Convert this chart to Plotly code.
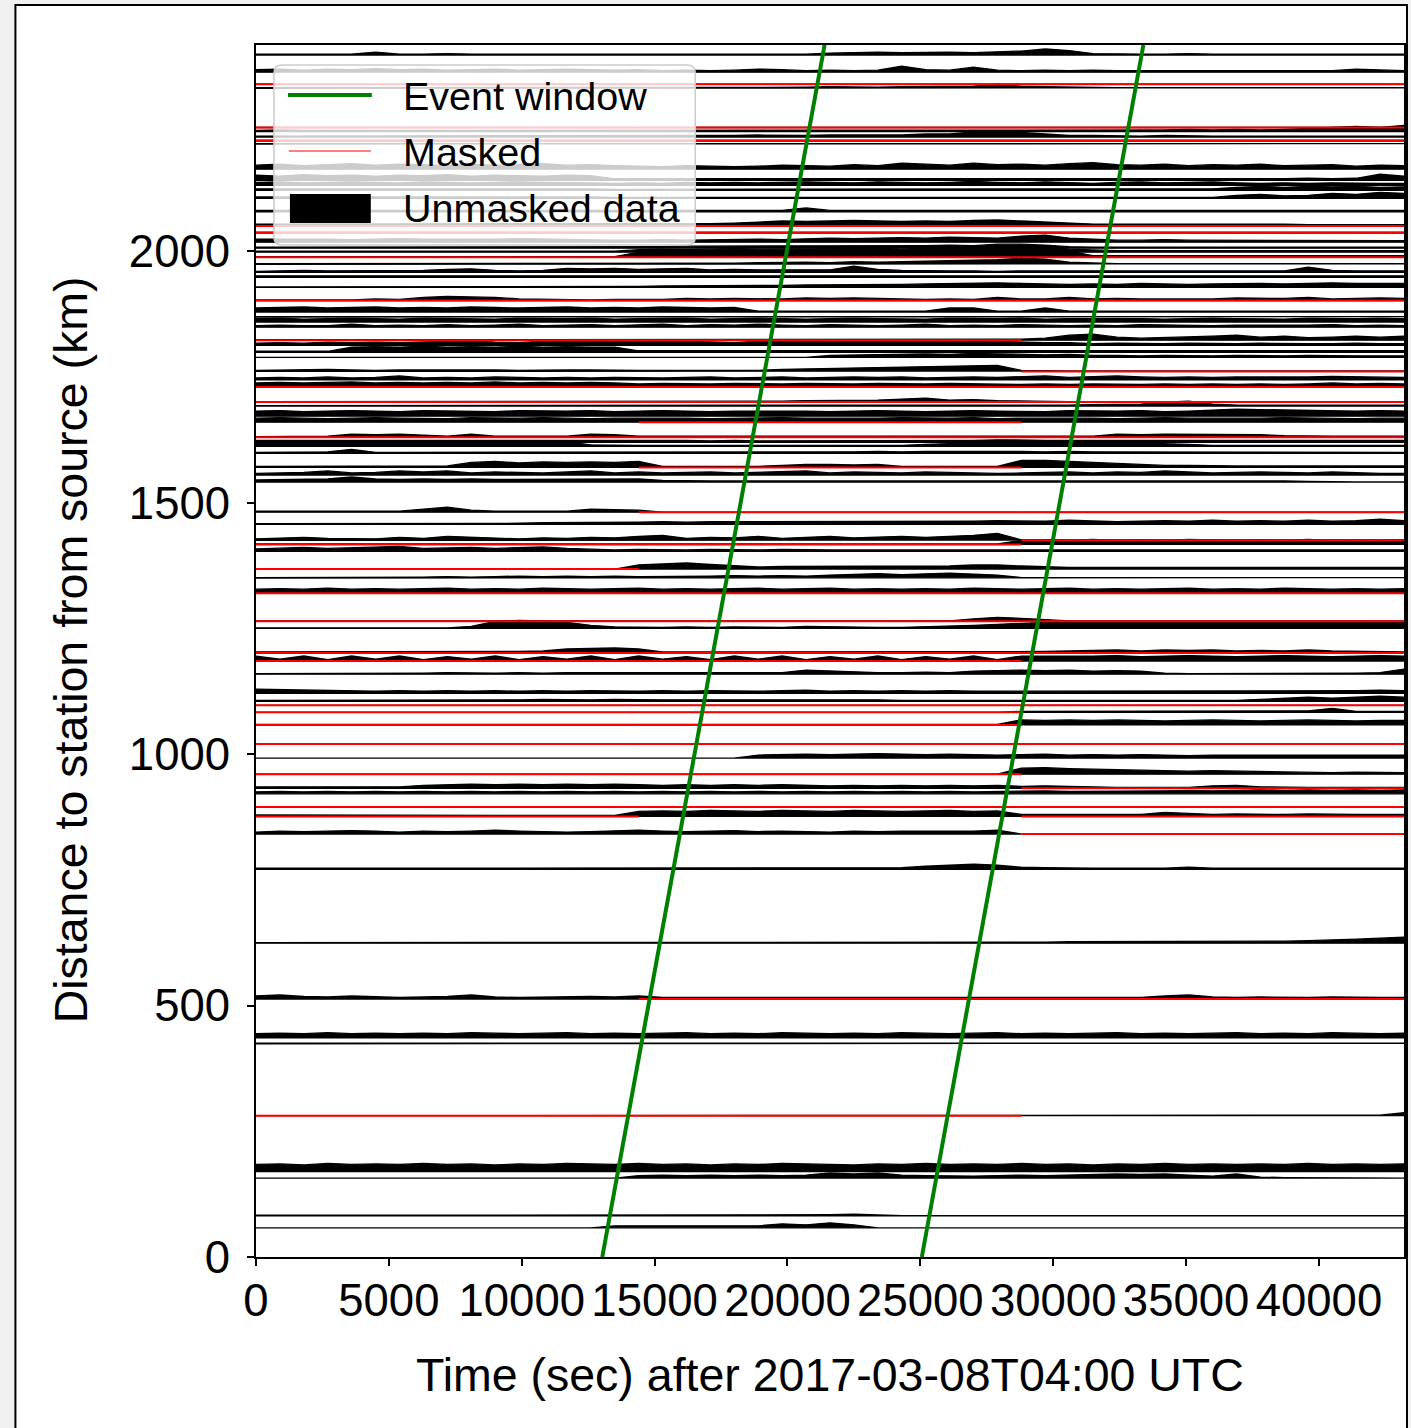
import plotly.graph_objects as go

# ---------------- data ----------------
# envelope sampled every 15 min over 12 h
TIME_GRID_S = [0, 900, 1800, 2700, 3600, 4500, 5400, 6300, 7200, 8100, 9000, 9900,
               10800, 11700, 12600, 13500, 14400, 15300, 16200, 17100, 18000, 18900,
               19800, 20700, 21600, 22500, 23400, 24300, 25200, 26100, 27000, 27900,
               28800, 29700, 30600, 31500, 32400, 33300, 34200, 35100, 36000, 36900,
               37800, 38700, 39600, 40500, 41400, 42300, 43200]
CHUNK_EDGES_S = [0, 14400, 28800, 43200]

TRACE_DIST = [2390, 2356, 2332, 2324, 2246, 2238, 2227, 2219, 2213, 2163,
              2141, 2131, 2121, 2105, 2078, 2050, 2036, 2018, 2006, 1998,
              1988, 1974, 1958, 1948, 1928, 1902, 1879, 1869, 1859, 1849,
              1823, 1813, 1799, 1789, 1761, 1744, 1730, 1700, 1692, 1672,
              1660, 1630, 1620, 1612, 1598, 1570, 1555, 1541, 1481, 1457,
              1425, 1417, 1403, 1368, 1350, 1320, 1264, 1250, 1201, 1185,
              1159, 1121, 1105, 1097, 1083, 1058, 1020, 992, 960, 932,
              921, 895, 876, 841, 771, 624, 513, 436, 424, 281,
              170, 157, 82, 58]

# mask status per 4-hour chunk: U = unmasked, M = masked
TRACE_MASK = ["UUU", "UUU", "MMM", "UUU", "MMM", "UUU", "UUU", "MMM", "UUU", "UUU",
              "UUU", "UUU", "UUU", "UUU", "UUU", "MMM", "MMM", "UUU", "UUU", "UUU",
              "MMM", "UUU", "UUU", "UUU", "UUU", "MMM", "UUU", "UUU", "UUU", "UUU",
              "MMU", "UUU", "UUU", "UUU", "UUM", "UUU", "MMM", "MMM", "UUU", "UUU",
              "UMU", "MMM", "UUU", "UUU", "UUU", "UMU", "UUU", "UUU", "UMM", "UUU",
              "UUM", "MMU", "UUU", "MUU", "UUU", "MMM", "MMM", "UUU", "MMM", "MMU",
              "UUU", "UUU", "UUU", "MMM", "MMU", "MMU", "MMM", "UUU", "MMU", "UUM",
              "UUU", "MMM", "MUM", "UUM", "UUU", "UUU", "UMM", "UUU", "UUU", "MMU",
              "UUU", "UUU", "UUU", "UUU"]

# envelope amplitude (km above the station line)
TRACE_AMP = [
    [2,2,3,2,2,6,2, 2,3,2,2,2,2,3, 2,2,2,2,3,2,2, 2,2,2,4,5,6,5, 6,6,5,7,8,12,9, 3,2,2,2,3,2,2, 2,2,2,2,2,2,2],
    [5,6,4,6,5,7,5, 6,4,5,6,4,5,6, 5,4,5,3,4,3,4, 6,5,3,4,3,4,12, 5,4,10,4,3,4,3, 4,3,3,4,3,3,3, 3,4,3,3,6,4,3],
    [0,0,0,0,0,0,0, 0,0,0,0,0,0,0, 0,0,0,0,0,0,0, 0,0,0,0,0,0,0, 0,0,0,0,0,0,0, 0,0,0,0,0,0,0, 0,0,0,0,0,0,0],
    [1,1,1,1,1,1,1, 1,1,1,1,1,1,1, 1,1,1,1,1,1,2, 2,2,2,3,2,2,3, 3,4,4,8,4,3,2, 1,1,1,1,1,1,1, 1,1,1,1,1,1,1],
    [0,0,0,0,0,0,0, 0,0,0,0,0,0,0, 0,0,0,0,0,0,0, 0,0,0,0,0,0,0, 0,0,0,0,0,0,0, 0,0,0,0,0,0,0, 0,0,0,0,0,0,0],
    [2,3,2,2,3,2,2, 3,2,2,3,2,3,2, 2,3,2,3,2,3,3, 2,3,3,2,3,2,3, 3,2,3,3,2,3,3, 3,2,3,3,4,3,4, 3,4,6,8,10,8,12],
    [2,2,3,2,2,2,3, 2,2,2,3,2,2,2, 3,2,2,3,2,3,3, 4,3,3,4,4,5,4, 6,6,10,12,9,6,3, 3,2,2,3,2,2,2, 2,3,2,2,2,2,2],
    [2,2,3,2,2,2,2, 2,3,2,2,2,2,2, 2,2,2,2,3,2,2, 2,2,2,2,2,3,2, 2,2,2,3,2,2,2, 2,2,2,2,2,2,3, 2,2,2,2,2,2,2],
    [1,1,1,1,1,1,1, 1,1,1,1,1,1,1, 1,1,1,1,1,1,1, 1,1,1,1,1,1,1, 1,1,1,1,1,1,1, 1,1,1,1,1,1,1, 1,1,1,1,1,1,1],
    [8,10,7,9,11,8,10, 9,7,10,8,9,11,8, 9,7,6,5,7,6,5, 6,8,7,6,9,7,12, 10,8,12,9,10,8,11, 13,9,8,10,7,9,8, 10,7,8,9,6,8,7],
    [10,8,11,9,10,8,10, 9,11,8,10,9,8,10, 9,3,3,2,3,3,2, 3,3,2,3,3,2,3, 3,2,3,3,2,3,3, 2,3,3,2,3,3,2, 3,3,4,3,4,12,8],
    [6,7,5,6,7,6,5, 7,6,5,6,7,6,6, 5,4,5,4,6,5,6, 5,6,7,6,5,7,6, 5,6,8,6,5,7,5, 4,6,7,5,6,7,5, 4,5,4,5,4,4,4],
    [3,3,4,3,3,4,3, 3,3,4,3,3,3,4, 3,2,2,2,3,2,2, 2,3,2,2,2,3,2, 2,2,2,3,2,2,2, 2,3,2,2,2,3,6, 8,6,8,7,8,6,7],
    [3,3,3,4,3,3,3, 4,3,3,3,3,4,3, 3,2,2,2,2,3,2, 2,2,2,3,2,2,2, 2,2,3,2,2,2,2, 2,2,2,2,3,2,6, 8,5,6,10,8,12,10],
    [3,3,4,3,3,3,4, 3,3,3,4,3,3,3, 3,3,3,3,3,3,3, 3,3,8,3,3,3,3, 3,3,3,4,3,3,3, 3,3,3,3,3,3,4, 3,3,3,3,3,3,3],
    [4,4,5,4,4,5,4, 4,5,4,4,4,5,4, 4,4,5,4,4,5,6, 8,10,9,10,11,10,9, 10,9,11,12,10,8,7, 4,4,4,5,4,4,4, 4,4,3,3,4,3,3],
    [2,2,2,2,2,2,2, 2,2,2,2,2,2,2, 2,2,2,2,2,2,2, 2,2,2,2,2,2,2, 2,2,2,2,2,2,2, 2,2,2,2,2,2,2, 2,2,2,2,2,2,2],
    [6,6,7,6,5,6,7, 6,6,5,6,7,6,6, 5,4,4,5,4,5,5, 6,5,6,8,7,8,9, 8,10,9,8,12,14,8, 6,4,4,5,4,4,4, 3,4,3,3,4,3,3],
    [2,2,2,3,2,2,2, 2,3,2,2,2,2,3, 2,2,2,3,4,4,5, 4,4,5,4,4,5,4, 5,6,5,8,8,6,3, 2,2,3,2,2,2,2, 2,2,3,2,2,2,2],
    [2,2,3,2,2,2,3, 2,2,2,3,2,2,2, 2,2,5,6,5,6,7, 6,6,7,6,7,8,6, 8,7,8,9,10,12,6, 4,3,3,3,4,3,3, 4,3,4,4,3,3,3],
    [1,1,1,1,1,1,1, 1,1,1,1,1,1,1, 1,1,10,11,10,12,10, 11,10,12,11,10,12,11, 10,12,11,12,13,12,12, 3,3,3,3,3,3,3, 3,3,3,3,3,3,3],
    [1,1,1,1,1,1,1, 1,1,1,1,1,1,1, 1,1,1,1,2,2,2, 3,4,4,3,5,4,5, 6,7,8,9,12,10,4, 2,1,1,1,1,1,1, 1,1,1,1,1,1,1],
    [2,3,4,3,3,4,3, 4,6,7,4,3,4,8, 7,8,6,7,8,5,6, 5,5,6,5,12,6,4, 3,3,3,2,3,3,2, 3,3,3,3,3,3,3, 3,3,10,4,3,3,3],
    [3,3,4,3,3,4,3, 3,3,4,3,3,3,4, 3,3,3,3,4,3,3, 3,4,3,3,3,3,3, 4,3,3,3,4,3,3, 3,3,3,4,3,3,3, 3,4,3,3,3,3,3],
    [1,1,1,1,1,1,1, 1,1,1,1,1,1,1, 1,1,2,3,3,3,4, 4,4,5,5,6,6,6, 7,8,8,9,8,7,6, 7,6,8,7,6,7,8, 8,7,8,9,8,8,8],
    [1,1,2,2,1,3,2, 6,8,7,6,3,2,2, 1,2,2,2,4,3,4, 4,3,5,4,5,4,4, 2,3,2,6,3,3,6, 3,4,3,3,4,3,5, 4,4,6,3,4,5,4],
    [8,9,10,8,9,10,8, 9,8,10,9,8,9,10, 8,9,8,10,9,8,9, 2,2,2,2,2,2,2, 2,8,8,2,2,8,2, 2,2,2,2,2,2,2, 2,2,2,2,2,2,2],
    [1,1,1,1,1,1,1, 1,1,1,1,1,1,1, 1,1,1,1,1,1,1, 1,1,1,1,1,1,1, 1,1,1,1,1,1,1, 1,1,1,1,1,1,1, 1,1,1,1,1,1,1],
    [7,8,6,7,8,7,6, 8,7,7,6,8,7,7, 8,6,7,7,8,6,7, 8,7,6,7,8,7,7, 6,8,7,7,8,6,7, 7,8,7,6,7,8,7, 7,6,8,7,7,8,7],
    [3,4,3,3,6,3,4, 3,5,3,4,6,3,4, 5,3,4,6,3,5,4, 6,4,3,5,4,3,4, 6,3,4,3,5,4,3, 4,3,5,4,3,3,4, 4,3,4,5,3,4,3],
    [1,1,1,1,1,1,1, 1,1,1,1,1,1,1, 1,1,1,1,1,1,1, 1,1,1,1,1,1,1, 1,1,1,1,2,4,10, 12,6,4,5,6,8,10, 6,8,5,6,8,6,8],
    [4,5,4,6,5,6,5, 6,8,9,6,5,8,9, 8,10,8,9,8,6,5, 8,9,10,8,9,10,8, 9,8,9,8,6,5,5, 3,4,3,3,4,3,3, 4,3,3,3,4,3,3],
    [2,2,3,2,10,11,10, 12,10,11,10,12,10,11, 10,10,3,3,3,3,3, 3,3,3,3,3,3,3, 3,3,3,3,3,3,3, 3,3,3,3,3,3,3, 3,3,3,3,3,3,3],
    [0,0,0,0,0,0,0, 0,0,0,0,0,0,0, 0,0,0,0,0,0,0, 0,0,0,4,5,6,6, 7,6,8,7,6,5,6, 4,4,3,4,3,3,4, 3,3,4,3,3,3,3],
    [2,3,3,4,3,2,3, 3,4,3,3,2,3,3, 3,2,2,2,2,3,2, 2,4,5,6,6,7,8, 9,10,11,12,2,1,1, 1,1,1,1,1,1,1, 1,1,1,1,1,1,1],
    [4,5,4,6,4,5,8, 4,5,4,6,5,4,5, 4,5,4,4,5,6,4, 5,6,4,5,6,5,6, 4,5,6,5,6,8,5, 6,8,6,5,6,5,6, 6,5,6,7,6,5,5],
    [8,9,8,9,10,8,9, 8,9,8,10,8,9,8, 9,8,6,7,6,6,7, 6,6,7,6,6,7,6, 6,7,6,6,5,6,5, 6,5,5,6,5,6,5, 6,5,6,8,6,7,6],
    [1,1,1,1,1,1,1, 1,1,1,1,1,1,1, 1,1,1,1,2,2,2, 2,2,3,3,3,4,6, 8,4,5,3,2,2,1, 1,1,1,1,1,1,1, 1,1,1,1,1,1,1],
    [1,1,1,1,1,1,1, 1,1,1,1,1,1,1, 1,1,1,1,1,1,1, 1,1,1,1,1,1,1, 1,1,1,1,2,2,2, 3,3,4,8,10,4,2, 2,2,2,2,2,2,2],
    [10,11,9,10,11,10,9, 11,10,10,9,11,10,10, 11,9,10,11,10,9,10, 10,11,10,9,10,11,10, 9,10,11,10,10,9,11, 10,10,11,9,10,12,14, 13,12,11,10,10,11,10],
    [8,9,8,7,8,9,8, 8,7,9,8,8,9,8, 7,8,8,9,8,7,8, 8,9,8,8,7,8,9, 8,8,9,7,8,8,9, 8,7,8,9,8,8,7, 8,9,8,8,7,8,8],
    [1,1,2,2,6,5,6, 4,2,6,2,2,2,2, 6,5,2,2,2,2,2, 2,2,2,2,2,2,2, 2,2,2,2,2,3,2, 2,6,5,6,6,5,6, 5,3,2,2,2,2,2],
    [4,4,5,4,4,5,4, 4,5,4,4,4,5,4, 4,4,4,5,4,3,4, 3,3,4,4,3,4,4, 4,4,4,5,4,4,4, 4,4,5,4,4,4,4, 5,4,4,4,5,4,4],
    [6,7,8,7,8,9,8, 7,8,9,8,7,8,9, 3,2,2,2,2,2,2, 2,2,2,2,2,2,2, 4,6,7,8,9,8,7, 6,8,7,6,4,2,2, 2,2,2,2,2,2,2],
    [2,2,2,3,8,2,2, 2,2,3,2,2,2,2, 2,2,2,2,2,3,2, 2,2,3,3,3,4,3, 4,4,5,4,4,3,4, 3,3,3,3,2,3,3, 3,3,3,3,3,3,2],
    [2,2,2,3,2,3,2, 2,3,10,12,9,11,10, 11,10,12,2,2,2,2, 2,4,6,6,5,6,2, 2,2,2,2,14,14,12, 10,8,6,4,4,3,3, 3,3,3,3,3,3,3],
    [3,4,5,8,4,5,8, 6,8,4,6,5,4,6, 8,4,6,4,5,6,4, 5,6,8,4,6,5,4, 6,5,4,3,4,5,6, 4,6,5,8,6,4,5, 6,5,4,6,4,3,3],
    [4,5,6,6,10,6,5, 6,5,6,5,5,6,5, 6,5,6,3,2,2,2, 2,2,3,2,2,3,2, 2,2,3,2,2,2,2, 2,2,2,2,2,2,2, 2,2,1,0,0,0,0],
    [2,2,2,2,3,2,2, 6,10,4,2,2,2,2, 6,5,4,0,0,0,0, 0,0,0,0,0,0,0, 0,0,0,0,0,0,0, 0,0,0,0,0,0,0, 0,0,0,0,0,0,0],
    [1,1,1,1,1,2,1, 1,2,1,2,2,3,3, 3,4,4,5,4,5,5, 6,5,6,5,6,6,6, 5,6,6,7,6,6,8, 6,5,6,7,6,8,6, 7,6,8,6,7,10,7],
    [3,4,6,4,4,3,6, 4,8,6,4,3,5,4, 6,5,8,10,4,6,5, 8,4,6,8,5,6,8, 6,8,10,14,1,1,1, 1,1,1,1,1,1,1, 1,1,1,1,1,1,1],
    [1,1,1,1,1,1,1, 1,1,1,1,1,1,1, 1,1,1,1,1,1,1, 1,1,1,1,1,1,1, 1,1,1,1,8,9,8, 10,8,9,8,10,9,8, 9,8,10,8,9,8,9],
    [5,6,8,6,7,8,10, 6,7,8,6,7,9,6, 4,3,4,3,3,4,3, 3,4,3,3,3,3,4, 3,3,3,3,3,4,3, 3,4,3,3,3,3,4, 3,3,3,4,3,3,3],
    [0,0,0,0,0,0,0, 0,0,0,0,0,0,0, 0,0,8,10,12,9,6, 4,5,5,6,5,6,5, 5,6,8,8,6,4,3, 3,3,3,3,3,3,3, 3,3,3,3,3,3,3],
    [1,1,1,2,1,2,2, 2,3,2,3,4,3,4, 3,4,3,3,4,4,5, 4,5,4,6,8,9,7, 8,10,8,6,1,1,1, 1,1,1,1,1,1,1, 1,1,1,1,1,1,1],
    [8,9,8,10,8,9,8, 9,10,8,9,8,10,9, 8,9,10,8,9,8,9, 10,8,9,10,8,9,8, 9,8,10,9,8,9,10, 8,9,8,9,10,8,9, 8,10,9,8,9,8,9],
    [1,1,1,1,1,1,1, 1,1,1,1,1,1,1, 1,1,1,1,1,1,1, 1,1,1,1,1,1,1, 1,1,5,8,6,3,1, 1,1,1,1,1,1,1, 1,1,1,1,1,1,1],
    [1,1,1,1,1,1,1, 1,1,4,14,16,15,12, 6,3,2,2,3,2,3, 3,2,4,3,2,2,2, 3,4,6,8,10,12,12, 12,12,12,12,12,12,12, 12,12,12,12,12,12,12],
    [2,2,3,2,2,3,2, 2,3,2,3,3,4,8, 9,10,8,2,2,2,2, 2,2,2,2,2,2,2, 2,2,2,2,2,3,4, 5,6,4,6,5,6,4, 5,4,6,4,3,3,2],
    [10,4,10,3,10,4,10, 3,9,4,10,3,9,4, 10,3,10,4,9,3,10, 4,10,3,9,4,10,3, 9,4,10,3,10,10,9, 10,11,9,10,11,10,9, 10,11,10,9,10,11,10],
    [1,1,2,1,2,2,1, 2,3,2,2,3,2,3, 3,2,3,2,3,2,3, 3,3,8,6,4,3,3, 4,3,6,7,8,7,8, 6,7,6,2,1,1,1, 1,1,1,1,2,3,10],
    [8,7,6,5,5,4,5, 4,5,4,5,4,5,4, 5,4,4,5,4,5,4, 4,5,6,4,5,4,5, 4,5,4,4,5,4,4, 5,4,5,4,4,5,4, 4,5,4,4,5,6,5],
    [2,2,2,2,2,2,3, 3,3,3,3,3,4,3, 3,4,3,3,3,3,4, 3,3,4,3,3,3,2, 2,2,2,2,2,3,2, 2,2,2,2,3,2,2, 4,6,8,6,8,10,8],
    [0,0,0,0,0,0,0, 0,0,0,0,0,0,0, 0,0,0,0,0,0,0, 0,0,0,0,0,0,0, 0,0,0,0,0,0,0, 0,0,0,0,0,0,0, 0,0,0,0,0,0,0],
    [0,0,0,0,0,0,0, 0,0,0,0,0,0,0, 0,0,0,0,0,0,0, 0,0,0,0,0,0,0, 0,0,0,0,2,2,2, 2,2,2,2,2,2,2, 2,2,3,8,2,2,2],
    [1,1,1,1,1,1,1, 1,1,1,1,1,1,1, 1,1,1,1,1,1,1, 1,1,1,1,1,1,1, 1,1,1,1,10,9,10, 9,10,9,8,9,10,9, 8,9,10,9,8,9,9],
    [0,0,0,0,0,0,0, 0,0,0,0,0,0,0, 0,0,0,0,0,0,0, 0,0,0,0,0,0,0, 0,0,0,0,0,0,0, 0,0,0,0,0,0,0, 0,0,0,0,0,0,0],
    [0,0,0,0,0,0,0, 0,0,0,0,0,0,0, 0,0,0,0,0,0,0, 6,7,8,7,8,9,8, 7,8,7,6,7,8,6, 7,6,7,6,5,6,6, 5,6,5,6,5,6,6],
    [0,0,0,0,0,0,0, 0,0,0,0,0,0,0, 0,0,0,0,0,0,0, 0,0,0,0,0,0,0, 0,0,0,0,12,13,11, 10,9,8,7,6,7,6, 5,4,4,3,4,3,3],
    [3,3,4,3,3,4,3, 6,7,8,7,8,7,8, 7,8,7,6,7,6,7, 6,7,6,5,6,5,6, 5,6,5,6,4,5,4, 2,2,2,2,2,5,6, 3,2,2,2,2,2,2],
    [4,5,4,5,4,5,4, 5,4,5,4,5,4,5, 4,5,4,5,4,5,4, 5,4,5,4,5,4,5, 4,5,4,5,5,6,5, 5,6,5,6,7,6,7, 8,7,8,7,8,7,8],
    [0,0,0,0,0,0,0, 0,0,0,0,0,0,0, 0,0,0,0,0,0,0, 0,0,0,0,0,0,0, 0,0,0,0,0,0,0, 0,0,0,0,0,0,0, 0,0,0,0,0,0,0],
    [3,3,3,2,3,2,3, 2,2,3,2,2,3,2, 2,2,10,11,10,12,11, 10,12,11,10,12,11,10, 11,12,10,11,4,4,5, 4,5,4,8,6,4,5, 4,4,5,4,4,4,4],
    [4,6,5,6,7,6,4, 6,5,6,8,6,5,4, 5,6,8,6,5,6,7, 5,6,5,4,6,5,6, 6,5,6,8,0,0,0, 0,0,0,0,0,0,0, 0,0,0,0,0,0,0],
    [2,2,2,2,2,2,2, 2,3,2,2,2,2,2, 2,2,2,2,2,2,2, 2,2,2,2,2,2,3, 6,8,10,8,4,3,2, 2,2,2,2,4,2,2, 2,2,2,2,2,2,2],
    [1,1,1,2,1,2,1, 2,2,1,2,2,2,2, 2,2,2,2,2,2,2, 2,2,2,2,2,2,2, 2,2,2,2,2,2,3, 3,3,3,3,3,4,4, 4,4,5,6,8,10,12],
    [6,8,5,4,6,4,3, 4,5,8,4,3,4,4, 5,4,6,3,3,4,3, 3,4,3,3,4,3,4, 3,3,4,3,3,4,3, 3,4,3,6,8,4,3, 4,3,3,4,3,3,3],
    [8,9,8,10,8,9,8, 9,8,10,9,8,9,10, 8,9,8,9,10,8,9, 8,10,9,8,9,8,10, 9,8,9,10,8,9,8, 9,10,8,9,8,9,10, 8,9,8,10,9,8,9],
    [1,1,1,1,1,1,1, 1,1,1,1,1,1,1, 1,1,1,1,1,1,1, 1,1,1,1,1,1,1, 1,1,1,1,1,1,1, 1,1,1,1,1,1,1, 1,1,1,1,1,1,1],
    [0,0,0,0,0,0,0, 0,0,0,0,0,0,0, 0,0,0,0,0,0,0, 0,0,0,0,0,0,0, 0,0,0,0,0,0,0, 0,0,0,0,0,0,0, 0,0,0,0,0,1,6],
    [14,15,13,16,14,15,14, 16,14,15,13,15,14,16, 15,14,16,14,15,13,15, 14,16,15,14,13,15,14, 16,14,15,14,16,14,15, 13,15,14,16,14,15,14, 15,14,16,14,15,14,15],
    [0,0,0,0,0,0,0, 0,0,0,0,0,0,0, 0,0,5,6,5,6,5, 6,5,6,10,8,10,6, 5,4,4,5,6,5,6, 7,8,7,8,6,4,8, 2,1,1,1,1,1,0],
    [1,1,1,1,1,1,1, 1,1,1,1,1,1,1, 1,1,1,1,1,1,1, 1,1,1,2,3,1,0, 0,0,0,0,0,0,0, 0,0,0,0,0,0,0, 0,0,0,0,0,0,0],
    [0,0,0,0,0,0,0, 0,0,0,0,0,0,0, 0,4,4,5,4,4,5, 4,8,6,10,6,0,0, 0,0,0,0,0,0,0, 0,0,0,0,0,0,0, 0,0,0,0,0,0,0],
]

# event window (start / end arrival lines)
WINDOW_DIST_KM = [0, 2410]
WINDOW_START_S = [13030, 21397]
WINDOW_END_S = [25055, 33394]

X_TICKS = [0, 5000, 10000, 15000, 20000, 25000, 30000, 35000, 40000]
Y_TICKS = [0, 500, 1000, 1500, 2000]
X_RANGE = [0, 43200]
Y_RANGE = [0, 2410]

# ---------------- figure ----------------
W, H = 1411, 1428
ML, MR, MT, MB = 256, 5, 45, 171
PW, PH = W - ML - MR, H - MT - MB


def px_x(p):
    return (p - ML) / PW


def px_y(p):
    return (H - MB - p) / PH


FONT = "Liberation Sans, Arial, Helvetica, sans-serif"

fill_x, fill_y = [], []
for d, amps in zip(TRACE_DIST, TRACE_AMP):
    n = min(len(amps), len(TIME_GRID_S))
    tg = TIME_GRID_S[:n]
    fill_x += tg + tg[::-1] + [None]
    fill_y += [d + a for a in amps[:n]] + [d] * n + [None]

red_x, red_y = [], []
for d, mask in zip(TRACE_DIST, TRACE_MASK):
    for k, flag in enumerate(mask):
        if flag == "M":
            red_x += [CHUNK_EDGES_S[k], CHUNK_EDGES_S[k + 1], None]
            red_y += [d, d, None]

fig = go.Figure()
fig.add_trace(go.Scatter(x=fill_x, y=fill_y, mode="lines", fill="toself",
                         fillcolor="black", line=dict(color="black", width=1.3),
                         hoverinfo="skip", showlegend=False))
fig.add_trace(go.Scatter(x=red_x, y=red_y, mode="lines",
                         line=dict(color="#ff0000", width=2),
                         hoverinfo="skip", showlegend=False))
for tt in (WINDOW_START_S, WINDOW_END_S):
    fig.add_trace(go.Scatter(x=tt, y=WINDOW_DIST_KM, mode="lines",
                             line=dict(color="#008000", width=4),
                             hoverinfo="skip", showlegend=False))

axis_common = dict(showline=True, mirror=True, linecolor="black", linewidth=1.6,
                   ticks="outside", ticklen=7, tickwidth=1.6, tickcolor="black",
                   showgrid=False, zeroline=False,
                   tickfont=dict(family=FONT, size=45.5, color="black"))
fig.update_xaxes(range=X_RANGE, tickvals=X_TICKS, ticktext=[str(v) for v in X_TICKS],
                 ticklabelstandoff=-4, **axis_common)
fig.update_yaxes(range=Y_RANGE, tickvals=Y_TICKS, ticktext=[str(v) for v in Y_TICKS],
                 ticklabelstandoff=8, **axis_common)

shapes = []
# outer figure frame
shapes.append(dict(type="rect", xref="paper", yref="paper", layer="below",
                   x0=px_x(15), x1=px_x(1409), y0=px_y(1445), y1=px_y(5),
                   fillcolor="white", line=dict(color="black", width=2)))
# legend box (rounded)
lx0, lx1, ly0, ly1, r = 274, 696, 65, 245, 8
path = (f"M {px_x(lx0 + r)},{px_y(ly0)} L {px_x(lx1 - r)},{px_y(ly0)} "
        f"Q {px_x(lx1)},{px_y(ly0)} {px_x(lx1)},{px_y(ly0 + r)} "
        f"L {px_x(lx1)},{px_y(ly1 - r)} Q {px_x(lx1)},{px_y(ly1)} {px_x(lx1 - r)},{px_y(ly1)} "
        f"L {px_x(lx0 + r)},{px_y(ly1)} Q {px_x(lx0)},{px_y(ly1)} {px_x(lx0)},{px_y(ly1 - r)} "
        f"L {px_x(lx0)},{px_y(ly0 + r)} Q {px_x(lx0)},{px_y(ly0)} {px_x(lx0 + r)},{px_y(ly0)} Z")
shapes.append(dict(type="path", xref="paper", yref="paper", path=path, layer="above",
                   fillcolor="rgba(255,255,255,0.8)", line=dict(color="#cccccc", width=1.5)))
shapes.append(dict(type="line", xref="paper", yref="paper", layer="above",
                   x0=px_x(288), x1=px_x(372), y0=px_y(95), y1=px_y(95),
                   line=dict(color="#008000", width=4)))
shapes.append(dict(type="line", xref="paper", yref="paper", layer="above",
                   x0=px_x(289), x1=px_x(371), y0=px_y(151), y1=px_y(151),
                   line=dict(color="#ff0000", width=1)))
shapes.append(dict(type="rect", xref="paper", yref="paper", layer="above",
                   x0=px_x(290), x1=px_x(371), y0=px_y(223), y1=px_y(194),
                   fillcolor="black", line=dict(width=0)))

annotations = []
for label, yc in (("Event window", 96), ("Masked", 152), ("Unmasked data", 208)):
    annotations.append(dict(text=label, xref="paper", yref="paper", x=px_x(401), y=px_y(yc),
                            xanchor="left", yanchor="middle", showarrow=False,
                            font=dict(family=FONT, size=39.5, color="black")))
annotations.append(dict(text="Time (sec) after 2017-03-08T04:00 UTC", xref="paper", yref="paper",
                        x=px_x(831), y=px_y(1375), xanchor="center", yanchor="middle",
                        showarrow=False, font=dict(family=FONT, size=46.5, color="black")))
annotations.append(dict(text="Distance to station from source (km)", xref="paper", yref="paper",
                        x=px_x(71), y=px_y(650), xanchor="center", yanchor="middle",
                        textangle=-90, showarrow=False,
                        font=dict(family=FONT, size=46.5, color="black")))

fig.update_layout(width=W, height=H, margin=dict(l=ML, r=MR, t=MT, b=MB),
                  paper_bgcolor="#f1f1f1", plot_bgcolor="white",
                  shapes=shapes, annotations=annotations, showlegend=False)

fig.write_html("out.html")
